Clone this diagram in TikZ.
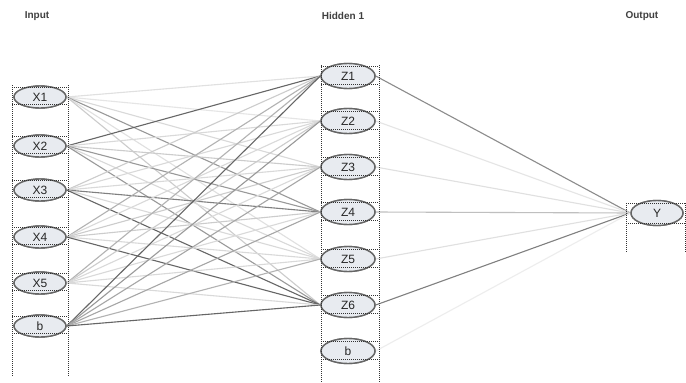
\documentclass[tikz,border=0pt]{standalone}
\usepackage{fontspec}
\setmainfont{Liberation Sans}
\usetikzlibrary{shapes.geometric}
\definecolor{nfill}{RGB}{232,235,240}
\begin{document}
\begin{tikzpicture}[x=1pt,y=-1pt,
  neuron/.style={ellipse, draw=black!60, line width=1.4pt, fill=nfill,
    minimum width=52pt, minimum height=22pt, inner sep=0pt,
    font=\fontsize{12}{12}\selectfont, text=black!85},
  hneuron/.style={neuron, minimum width=54pt, minimum height=25pt},
  title/.style={font=\bfseries\fontsize{10}{10}\selectfont, text=black!75},
  edge/.style={line width=1.1pt},
  dots/.style={line width=1pt, black!80, dash pattern=on 1pt off 1pt}]
\path[fill=white] (0,0) rectangle (686,383);
\useasboundingbox (0,0) rectangle (686,383);

% titles
\node[title] (tin) at (37,16) {Input};
\node[title] (thid) at (343,16) {Hidden 1};
\node[title, anchor=west] (tout) at (622,16) {Output};

% nodes (placed first for naming)
\foreach \y/\t [count=\i] in {97/X1,146/X2,190/X3,237/X4,283/X5,326/b}
  \node[neuron] (i\i) at (40,\y) {\raisebox{-3pt}{\t}};
\foreach \y/\t [count=\i] in {76/Z1,121/Z2,167/Z3,212/Z4,259/Z5,305/Z6,351/b}
  \node[hneuron] (h\i) at (348,\y) {\raisebox{-4pt}{\t}};
\node[neuron, minimum height=25pt] (o) at (657,213) {\raisebox{-3pt}{Y}};

% input -> hidden edges
\foreach \row [count=\i] in {
  {12,10,15,40,12,20},
  {60,15,20,40,15,40},
  {20,15,15,50,15,60},
  {30,15,20,20,15,60},
  {30,20,15,15,15,15},
  {60,40,35,35,30,60}} {
  \foreach \g [count=\j] in \row
    \draw[edge, black!\g] (i\i.east) -- (h\j.west);
}
\foreach \g [count=\j] in {45,10,12,25,12,50,7}
  \draw[edge, black!\g] (h\j.east) -- (o.west);

% redraw nodes on top
\foreach \y/\t [count=\i] in {97/X1,146/X2,190/X3,237/X4,283/X5,326/b}
  \node[neuron] at (40,\y) {\raisebox{-3pt}{\t}};
\foreach \y/\t [count=\i] in {76/Z1,121/Z2,167/Z3,212/Z4,259/Z5,305/Z6,351/b}
  \node[hneuron] at (348,\y) {\raisebox{-4pt}{\t}};
\node[neuron, minimum height=25pt] at (657,213) {\raisebox{-3pt}{Y}};

% dotted selection boxes
\draw[dots] (12,85) -- (12,376);
\draw[dots] (68,85) -- (68,376);
\foreach \y in {97,146,190,237,283,326} {
  \draw[dots] (12,\y-10) -- (68,\y-10);
  \draw[dots] (12,\y+7) -- (68,\y+7);
}
\draw[dots] (321,65) -- (321,383);
\draw[dots] (379,65) -- (379,383);
\foreach \y in {76,121,167,212,259,305,351} {
  \draw[dots] (321,\y-10) -- (379,\y-10);
  \draw[dots] (321,\y+8) -- (379,\y+8);
}
\draw[dots] (626,203) -- (626,252);
\draw[dots] (685,203) -- (685,252);
\draw[dots] (626,203) -- (685,203);
\draw[dots] (626,223) -- (685,223);
\end{tikzpicture}
\end{document}
